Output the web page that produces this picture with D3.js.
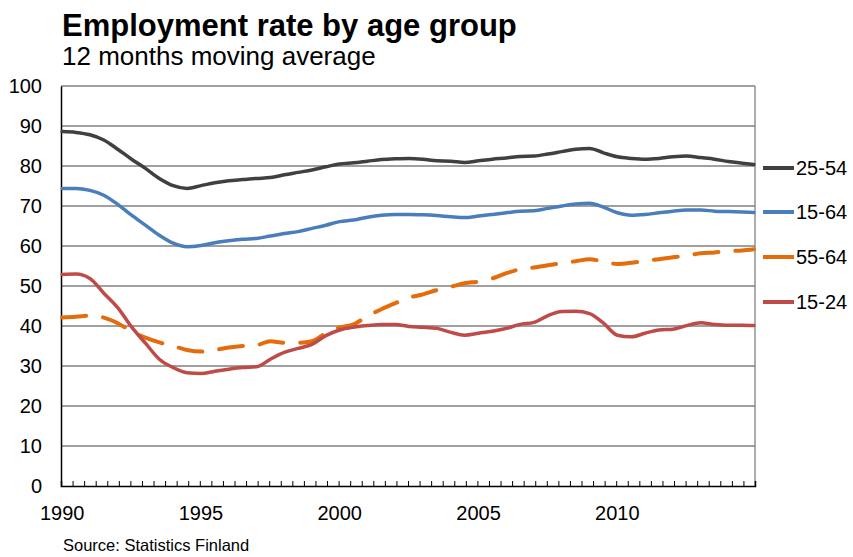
<!DOCTYPE html>
<html>
<head>
<meta charset="utf-8">
<script src="https://cdn.jsdelivr.net/npm/d3@7"></script>
<style>
  html, body { margin: 0; padding: 0; background: #fff; }
  svg { display: block; font-family: "Liberation Sans", Arial, sans-serif; }
</style>
</head>
<body>
<svg id="chart" width="853" height="557"></svg>
<script>
// ---- Data (half-yearly samples of the monthly series) ----
const periods = [
  "1990M01","1990M07","1991M01","1991M07","1992M01","1992M07","1993M01","1993M07",
  "1994M01","1994M07","1995M01","1995M07","1996M01","1996M07","1997M01","1997M07",
  "1998M01","1998M07","1999M01","1999M07","2000M01","2000M07","2001M01","2001M07",
  "2002M01","2002M07","2003M01","2003M07","2004M01","2004M07","2005M01","2005M07",
  "2006M01","2006M07","2007M01","2007M07","2008M01","2008M07","2009M01","2009M07",
  "2010M01","2010M07","2011M01","2011M07","2012M01","2012M07","2013M01","2013M07",
  "2014M01","2014M07","2014M12"
];
const age25_54 = [
  88.6,88.4,87.8,86.5,84.2,81.7,79.4,76.9,75.1,74.4,75.1,75.8,76.3,76.6,76.9,77.1,
  77.8,78.4,79.0,79.8,80.5,80.8,81.2,81.6,81.8,81.9,81.7,81.3,81.2,80.9,81.3,81.7,
  82.0,82.4,82.5,83.0,83.6,84.2,84.4,83.3,82.3,81.9,81.7,81.9,82.3,82.5,82.1,81.7,
  81.1,80.7,80.4
];
const age15_64 = [
  74.4,74.4,73.9,72.7,70.4,67.7,65.2,62.7,60.7,59.8,60.1,60.8,61.3,61.7,61.9,62.5,
  63.1,63.6,64.4,65.2,66.1,66.5,67.2,67.7,67.9,67.9,67.8,67.6,67.3,67.1,67.5,67.9,
  68.3,68.7,68.8,69.4,70.0,70.5,70.7,69.7,68.3,67.7,67.9,68.3,68.7,69.0,69.0,68.7,
  68.6,68.5,68.4
];
const age55_64 = [
  42.1,42.3,42.6,42.1,40.7,38.7,37.1,35.9,35.0,34.0,33.6,34.0,34.6,35.0,35.2,36.2,
  35.8,35.8,36.2,38.2,39.6,40.4,42.5,44.2,45.7,47.1,47.9,49.0,49.8,50.7,51.1,51.9,
  53.2,54.2,54.6,55.2,55.7,56.2,56.7,56.1,55.5,55.8,56.3,56.7,57.2,57.6,58.2,58.4,
  58.7,58.9,59.2
];
const age15_24 = [
  52.9,53.0,51.9,48.2,44.6,39.8,35.7,31.7,29.6,28.3,28.1,28.7,29.2,29.6,29.8,31.7,
  33.4,34.4,35.4,37.6,39.0,39.7,40.1,40.4,40.4,39.9,39.7,39.4,38.4,37.7,38.2,38.7,
  39.4,40.4,40.9,42.6,43.6,43.7,43.1,40.7,37.7,37.3,38.2,39.0,39.2,40.1,40.8,40.4,
  40.2,40.2,40.1
];
const seriesNames = ["25-54", "15-64", "55-64", "15-24"];
const seriesValues = [age25_54, age15_64, age55_64, age15_24];
const yTicks = [0, 10, 20, 30, 40, 50, 60, 70, 80, 90, 100];
const xLabels = ["1990", "1995", "2000", "2005", "2010"];
const titleText = "Employment rate by age group";
const subtitleText = "12 months moving average";
const sourceText = "Source: Statistics Finland";

// ---- Styles / layout ----
const colors = { "25-54": "#404040", "15-64": "#4a7ebb", "55-64": "#e46c0a", "15-24": "#be4b48" };
const plot = { left: 61, right: 755, top: 86, bottom: 486 };
const nMonths = 300;

const svg = d3.select("#chart");

const x = d3.scaleLinear().domain([0, nMonths]).range([plot.left, plot.right]);
const y = d3.scaleLinear().domain([0, 100]).range([plot.bottom, plot.top]);

function monthIndex(p) {
  const yr = +p.slice(0, 4), mo = +p.slice(5);
  return (yr - 1990) * 12 + (mo - 1);
}

// Title
svg.append("text").attr("x", 62).attr("y", 36)
  .attr("font-size", 31).attr("font-weight", "bold").attr("fill", "#000").text(titleText);
svg.append("text").attr("x", 62).attr("y", 65)
  .attr("font-size", 26).attr("fill", "#000").text(subtitleText);

// Gridlines
svg.append("g").selectAll("line").data(yTicks.filter(d => d > 0 && d < 100)).join("line")
  .attr("x1", plot.left).attr("x2", plot.right)
  .attr("y1", d => y(d)).attr("y2", d => y(d))
  .attr("stroke", "#808080").attr("stroke-width", 1.3);

// Plot border top/right
svg.append("line").attr("x1", plot.left).attr("x2", plot.right).attr("y1", plot.top).attr("y2", plot.top)
  .attr("stroke", "#808080").attr("stroke-width", 1.3);
svg.append("line").attr("x1", plot.right).attr("x2", plot.right).attr("y1", plot.top).attr("y2", plot.bottom)
  .attr("stroke", "#808080").attr("stroke-width", 1.3);

// Y axis
const yAxis = d3.axisLeft(y).tickValues(yTicks).tickSize(0).tickPadding(19);
const gy = svg.append("g").attr("transform", `translate(${plot.left},0)`).call(yAxis);
gy.select(".domain").attr("stroke", "#000").attr("stroke-width", 1.5);
gy.selectAll("text").attr("font-size", 20).attr("fill", "#000")
  .attr("font-family", '"Liberation Sans", Arial, sans-serif');

// X axis: ticks every 5 months (category boundaries), labels at category centres
const tickMonths = d3.range(5, nMonths, 5);
const xAxis = d3.axisBottom(x).tickValues(tickMonths).tickSize(-5).tickFormat("");
const gx = svg.append("g").attr("transform", `translate(0,${plot.bottom})`).call(xAxis);
gx.select(".domain").attr("stroke", "#000").attr("stroke-width", 1.5);
gx.selectAll(".tick line").attr("stroke", "#000").attr("stroke-width", 1);

svg.append("g").selectAll("text").data(xLabels).join("text")
  .attr("x", d => x(monthIndex(d + "M01") + 0.5))
  .attr("y", 520).attr("text-anchor", "middle").attr("font-size", 20).attr("fill", "#000")
  .text(d => d);

// Lines
const line = d3.line()
  .x(d => x(d.m + 0.5)).y(d => y(d.v))
  .curve(d3.curveMonotoneX);

seriesNames.forEach((name, i) => {
  const pts = periods.map((p, j) => ({ m: monthIndex(p), v: seriesValues[i][j] }));
  const path = svg.append("path").datum(pts).attr("d", line)
    .attr("fill", "none").attr("stroke", colors[name])
    .attr("stroke-width", name === "55-64" ? 4 : 3.5)
    .attr("stroke-linejoin", "round").attr("stroke-linecap", "round");
  if (name === "55-64") path.attr("stroke-dasharray", "24 17");
});

// Legend at right
const legendY = [168, 212, 257, 302];
const lg = svg.append("g").selectAll("g").data(seriesNames).join("g")
  .attr("transform", (d, i) => `translate(763,${legendY[i]})`);
lg.append("line").attr("x1", 0).attr("x2", 31).attr("y1", 0).attr("y2", 0)
  .attr("stroke", d => colors[d]).attr("stroke-width", 4);
lg.append("text").attr("x", 33).attr("y", 7).attr("font-size", 20).attr("fill", "#000").text(d => d);

// Source
svg.append("text").attr("x", 63).attr("y", 551).attr("font-size", 16.5).attr("fill", "#000").text(sourceText);
</script>
</body>
</html>
